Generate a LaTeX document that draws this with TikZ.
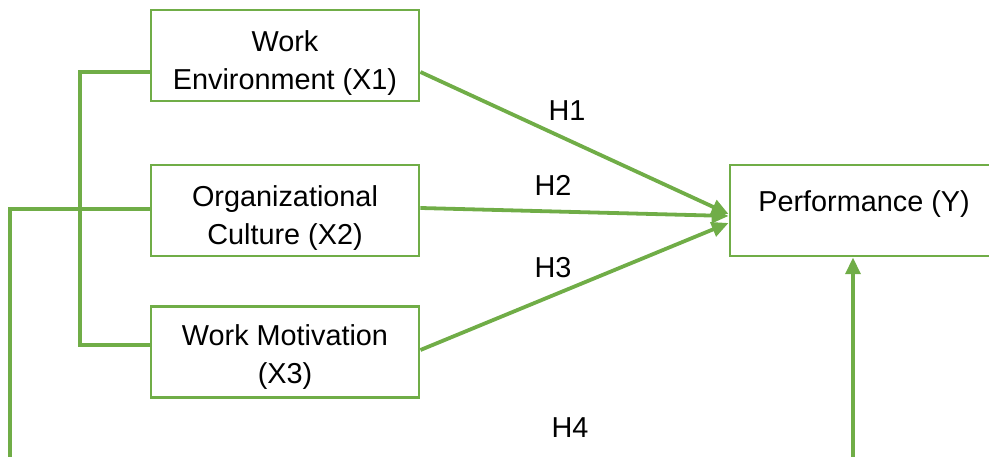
\documentclass[tikz,border=0pt]{standalone}
\usepackage{fontspec}
\setmainfont{Liberation Sans}
\usetikzlibrary{arrows.meta,positioning,calc}
\definecolor{leaf}{HTML}{70AD47}

\begin{document}
\begin{tikzpicture}[x=0.025cm,y=-0.025cm,>={Triangle[length=4.2mm,width=3.7mm]},
 var/.style={draw=leaf,line width=2pt,fill=white,minimum width=6.7cm,minimum height=2.275cm,align=center,inner sep=0pt,
  text depth=0pt,text height=17.2mm,font=\fontsize{20.5}{27}\selectfont},
 a/.style={->,line width=2.7pt,color=leaf},
 link/.style={line width=2.7pt,color=leaf},
 hyp/.style={font=\fontsize{20.5}{27}\selectfont}]
 \useasboundingbox (0,0) rectangle (989,457);
 \clip (0,0) rectangle (989,457);
 \node[var] (x1) at (285,55.5) {Work\\Environment (X1)};
 \node[var] (x2) at (285,210.5) {Organizational\\Culture (X2)};
 \node[var,text height=15.7mm] (x3) at (285,352) {Work Motivation\\(X3)};
 \node[var,text height=,text depth=4.8mm] (y) at (864,210.5) {Performance (Y)};
 % bracket joining the three predictors
 \coordinate (kb) at (80,72);
 \draw[link] (x1.west |- kb) -- (kb) |- (x3.west |- 0,345);
 % H4 path running round the bottom
 \coordinate (bl) at (10,470);
 \coordinate (br) at (853,470);
 \draw[a] (x2.west |- 0,209) -- (bl |- 0,209) -- (bl) -- (br) -- (br |- y.south);
 % direct hypotheses
 \draw[a] (x1.east |- 0,72) -- (y.west |- 0,214);
 \draw[a] (x2.east |- 0,208) -- (y.west |- 0,216);
 \draw[a] (x3.east |- 0,350) -- (y.west |- 0,223);
 \node[hyp] (h1) at (567,111) {H1};
 \node[hyp] (h2) at (553,185) {H2};
 \node[hyp] (h3) at (553,268) {H3};
 \node[hyp] (h4) at (570,428) {H4};
\end{tikzpicture}
\end{document}
